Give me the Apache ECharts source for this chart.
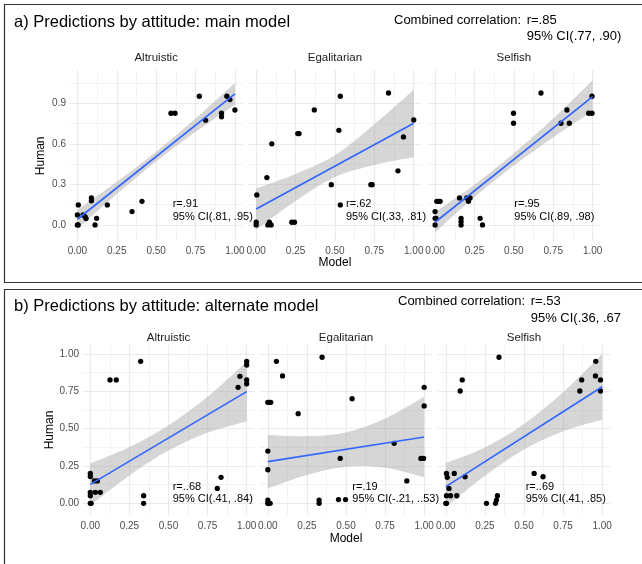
<!DOCTYPE html>
<html><head><meta charset="utf-8">
<script src="https://cdn.jsdelivr.net/npm/echarts@6/dist/echarts.min.js"></script>
<style>html,body{margin:0;padding:0;background:#fff}#c{width:642px;height:564px}</style>
</head><body><div id="c"></div>
<script>
// ---------- data ----------
const facets = ['Altruistic', 'Egalitarian', 'Selfish'];
const xTicks = [0, 0.25, 0.5, 0.75, 1];
const xMinor = [0.125, 0.375, 0.625, 0.875];
const yTicksMain = [0, 0.3, 0.6, 0.9];
const yMinorMain = [0.15, 0.45, 0.75, 1.05];
const yTicksAlt = [0, 0.25, 0.5, 0.75, 1];
const yMinorAlt = [0.125, 0.375, 0.625, 0.875];
const bandX = [0, 0.25, 0.5, 0.75, 1];
const fitX = [0, 1];

// a) main model: points [model, human]
const mainAltruistic = [[0,0],[0.005,0],[0,0.074],[0.006,0.148],[0.036,0.074],[0.049,0.062],[0.055,0.047],[0.089,0.2],[0.089,0.178],[0.112,0],[0.122,0.049],[0.19,0.148],[0.347,0.099],[0.41,0.175],[0.594,0.826],[0.62,0.826],[0.774,0.952],[0.814,0.774],[0.915,0.826],[0.915,0.8],[0.949,0.952],[0.968,0.927],[1.0,0.85]];
const mainEgalitarian = [[0,0],[0,0.02],[0.004,0.222],[0.068,0.35],[0.074,0],[0.084,0.02],[0.095,0],[0.099,0.6],[0.226,0.02],[0.243,0.02],[0.264,0.676],[0.272,0.676],[0.369,0.851],[0.477,0.298],[0.534,0.952],[0.525,0.7],[0.534,0.148],[0.728,0.298],[0.736,0.298],[0.84,0.976],[0.9,0.4],[0.935,0.651],[1.0,0.777]];
const mainSelfish = [[0,0],[0,0.049],[0,0.099],[0.006,0.049],[0.011,0.175],[0.021,0.175],[0.032,0.175],[0.155,0.2],[0.165,0.049],[0.165,0.025],[0.165,0],[0.201,0.2],[0.212,0.175],[0.222,0.2],[0.286,0.049],[0.301,0],[0.498,0.826],[0.498,0.752],[0.672,0.976],[0.799,0.752],[0.837,0.85],[0.852,0.752],[0.975,0.826],[0.996,0.826],[0.996,0.952]];
// fitted line (human at model=0, model=1)
const mainFitAltruistic = [0.042, 0.969];
const mainFitEgalitarian = [0.118, 0.752];
const mainFitSelfish = [0.02, 0.949];
// 95% band at bandX
const mainLoAltruistic = [-0.03, 0.229, 0.47, 0.687, 0.889];
const mainHiAltruistic = [0.11, 0.319, 0.542, 0.787, 1.049];
const mainLoEgalitarian = [-0.035, 0.177, 0.355, 0.444, 0.50];
const mainHiEgalitarian = [0.27, 0.377, 0.515, 0.744, 1.0];
const mainLoSelfish = [-0.055, 0.207, 0.44, 0.647, 0.84];
const mainHiSelfish = [0.095, 0.297, 0.53, 0.787, 1.07];
const mainR = ['r=.91', 'r=.62', 'r=.95'];
const mainCI = ['95% CI(.81, .95)', '95% CI(.33, .81)', '95% CI(.89, .98)'];
const mainCombined = ['Combined correlation:', 'r=.85', '95% CI(.77, .90)'];

// b) alternate model
const altAltruistic = [[0,0],[0.005,0],[0,0.051],[0,0.074],[0,0.179],[0,0.2],[0.026,0.15],[0.045,0.15],[0.032,0.074],[0.064,0.074],[0.126,0.826],[0.166,0.826],[0.322,0.951],[0.341,0.051],[0.341,0],[0.812,0.1],[0.836,0.174],[0.945,0.777],[0.957,0.85],[1,0.951],[1,0.926],[1,0.826],[1,0.8]];
const altEgalitarian = [[0,0],[0,0.022],[0.004,0],[0.015,0],[0,0.225],[0,0.35],[0,0.676],[0.009,0.676],[0.019,0.676],[0.055,0.951],[0.094,0.853],[0.194,0.6],[0.328,0.022],[0.328,0],[0.347,0.978],[0.463,0.301],[0.452,0.025],[0.497,0.025],[0.539,0.701],[0.808,0.402],[0.889,0.15],[0.979,0.301],[0.996,0.301],[1,0.777],[1,0.652]];
const altSelfish = [[0,0],[0.004,0],[0.004,0.051],[0.03,0.051],[0.07,0.051],[0.02,0.1],[0.004,0.2],[0.009,0.174],[0.054,0.2],[0.123,0.178],[0.092,0.752],[0.105,0.826],[0.26,0],[0.318,0],[0.324,0.022],[0.33,0.051],[0.34,0.978],[0.565,0.2],[0.622,0.178],[0.857,0.752],[0.869,0.826],[0.959,0.951],[0.957,0.853],[0.989,0.826],[0.989,0.752]];
const altFitAltruistic = [0.127, 0.748];
const altFitEgalitarian = [0.279, 0.444];
const altFitSelfish = [0.112, 0.78];
const altLoAltruistic = [-0.013, 0.187, 0.353, 0.473, 0.548];
const altHiAltruistic = [0.267, 0.377, 0.523, 0.713, 0.948];
const altLoEgalitarian = [0.10, 0.19, 0.245, 0.238, 0.174];
const altHiEgalitarian = [0.458, 0.45, 0.475, 0.568, 0.714];
const altLoSelfish = [-0.026, 0.184, 0.361, 0.483, 0.56];
const altHiSelfish = [0.27, 0.374, 0.531, 0.743, 1.0];
const altR = ['r=..68', 'r=.19', 'r=..69'];
const altCI = ['95% CI(.41, .84)', '95% CI(-.21, ..53)', '95% CI(.41, .85)'];
const altCombined = ['Combined correlation:', 'r=.53', '95% CI(.36, .67'];

// ---------- layout ----------
const FONT = '"Liberation Sans", Arial, Helvetica, sans-serif';
const rows = [
  { title: 'a) Predictions by attitude: main model', boxTop: 4.5, boxH: 278,
    titleY: 22, combY: [20, 36], combX: [394, 526.7],
    top: 70, height: 171.7, lefts: [69.5, 248.3, 427.2], width: 173.3,
    ymin: -0.124, ymax: 1.146, yTicks: yTicksMain, yMinor: yMinorMain, yDec: 1,
    stripY: 57.5, xTitleY: 263, yTitleX: 41, annX: [172.7, 346, 514.3], annY: [204.3, 217.3],
    pts: [mainAltruistic, mainEgalitarian, mainSelfish],
    fits: [mainFitAltruistic, mainFitEgalitarian, mainFitSelfish],
    los: [mainLoAltruistic, mainLoEgalitarian, mainLoSelfish],
    his: [mainHiAltruistic, mainHiEgalitarian, mainHiSelfish],
    r: mainR, ci: mainCI, comb: mainCombined, labelMargin: 5 },
  { title: 'b) Predictions by attitude: alternate model', boxTop: 289.5, boxH: 300,
    titleY: 306.5, combY: [301.5, 318.5], combX: [398, 530.7],
    top: 345, height: 170, lefts: [82.5, 260.0, 438.0], width: 172,
    ymin: -0.078, ymax: 1.06, yTicks: yTicksAlt, yMinor: yMinorAlt, yDec: 2,
    stripY: 337.5, xTitleY: 539, yTitleX: 50, annX: [172.7, 352.3, 525.7], annY: [486.7, 499.3],
    pts: [altAltruistic, altEgalitarian, altSelfish],
    fits: [altFitAltruistic, altFitEgalitarian, altFitSelfish],
    los: [altLoAltruistic, altLoEgalitarian, altLoSelfish],
    his: [altHiAltruistic, altHiEgalitarian, altHiSelfish],
    r: altR, ci: altCI, comb: altCombined, labelMargin: 6.5 }
];

const grid = [], xAxis = [], yAxis = [], series = [], graphic = [];
function txt(x, y, s, size, o) {
  o = o || {};
  return { type: 'text', x: x, y: y, rotation: o.rot || 0, silent: true, z: 100,
    style: { text: s, fontSize: size, fontFamily: FONT, fill: o.fill || '#000',
      align: o.align || 'left', verticalAlign: 'middle',
      textAlign: o.align || 'left', textVerticalAlign: 'middle' } };
}
// smooth path through pixel points (Catmull-Rom -> cubic Bezier)
function smoothSeg(p) {
  let d = '';
  for (let i = 0; i < p.length - 1; i++) {
    const p0 = p[Math.max(i - 1, 0)], p1 = p[i], p2 = p[i + 1], p3 = p[Math.min(i + 2, p.length - 1)];
    const c1 = [p1[0] + (p2[0] - p0[0]) / 6, p1[1] + (p2[1] - p0[1]) / 6];
    const c2 = [p2[0] - (p3[0] - p1[0]) / 6, p2[1] - (p3[1] - p1[1]) / 6];
    d += ' C' + c1[0] + ' ' + c1[1] + ' ' + c2[0] + ' ' + c2[1] + ' ' + p2[0] + ' ' + p2[1];
  }
  return d;
}

rows.forEach(function (R) {
  graphic.push({ type: 'rect', silent: true, z: 50,
    shape: { x: 4.5, y: R.boxTop, width: 640, height: R.boxH },
    style: { fill: 'none', stroke: '#333333', lineWidth: 1.2 } });
  graphic.push(txt(14, R.titleY, R.title, 16.5));
  graphic.push(txt(R.combX[0], R.combY[0], R.comb[0], 13));
  graphic.push(txt(R.combX[1], R.combY[0], R.comb[1], 13));
  graphic.push(txt(R.combX[1], R.combY[1], R.comb[2], 13));
  const midCx = R.lefts[1] + R.width / 2;
  graphic.push(txt(midCx, R.xTitleY, 'Model', 12, { align: 'center' }));
  graphic.push(txt(R.yTitleX, R.top + R.height / 2, 'Human', 12, { align: 'center', rot: Math.PI / 2 }));

  facets.forEach(function (f, fi) {
    const g = grid.length;
    grid.push({ left: R.lefts[fi], top: R.top, width: R.width, height: R.height, containLabel: false });
    graphic.push(txt(R.lefts[fi] + R.width / 2, R.stripY, f, 11.5, { align: 'center', fill: '#1A1A1A' }));
    graphic.push(txt(R.annX[fi], R.annY[0], R.r[fi], 11));
    graphic.push(txt(R.annX[fi], R.annY[1], R.ci[fi], 11));

    xAxis.push({ gridIndex: g, type: 'value', min: -0.05, max: 1.05, position: 'bottom',
      axisLine: { show: false }, axisTick: { show: false, customValues: xTicks },
      axisLabel: { customValues: xTicks, formatter: function (v) { return v.toFixed(2); },
        color: '#4D4D4D', fontSize: 10, fontFamily: FONT, margin: R.labelMargin },
      splitLine: { show: true, lineStyle: { color: '#EBEBEB', width: 1.2 } } });
    xAxis.push({ gridIndex: g, type: 'value', min: -0.05, max: 1.05, position: 'top',
      axisLine: { show: false }, axisTick: { show: false, customValues: xMinor },
      axisLabel: { show: false, customValues: xMinor },
      splitLine: { show: true, lineStyle: { color: '#F0F0F0', width: 0.8 } } });
    yAxis.push({ gridIndex: g, type: 'value', min: R.ymin, max: R.ymax, position: 'left',
      axisLine: { show: false }, axisTick: { show: false, customValues: R.yTicks },
      axisLabel: { show: fi === 0, customValues: R.yTicks,
        formatter: function (v) { return v.toFixed(R.yDec); },
        color: '#4D4D4D', fontSize: 10, fontFamily: FONT, margin: 3.5 },
      splitLine: { show: true, lineStyle: { color: '#EBEBEB', width: 1.2 } } });
    yAxis.push({ gridIndex: g, type: 'value', min: R.ymin, max: R.ymax, position: 'right',
      axisLine: { show: false }, axisTick: { show: false, customValues: R.yMinor },
      axisLabel: { show: false, customValues: R.yMinor },
      splitLine: { show: true, lineStyle: { color: '#F0F0F0', width: 0.8 } } });

    const xi = 2 * g, yi = 2 * g;
    const lo = R.los[fi], hi = R.his[fi];
    series.push({ type: 'custom', xAxisIndex: xi, yAxisIndex: yi, silent: true, z: 2,
      data: [[bandX[0], lo[0]]], encode: { x: 0, y: 1 },
      renderItem: function (params, api) {
        const up = bandX.map(function (x, i) { return api.coord([x, hi[i]]); });
        const dn = bandX.map(function (x, i) { return api.coord([x, lo[i]]); }).reverse();
        const d = 'M' + up[0][0] + ' ' + up[0][1] + smoothSeg(up) +
          ' L' + dn[0][0] + ' ' + dn[0][1] + smoothSeg(dn) + ' Z';
        return { type: 'path', shape: { pathData: d }, style: { fill: 'rgba(153,153,153,0.4)', stroke: null } };
      } });
    series.push({ type: 'scatter', xAxisIndex: xi, yAxisIndex: yi, data: R.pts[fi],
      symbolSize: 5.3, itemStyle: { color: '#000', opacity: 1 }, silent: true, z: 3 });
    series.push({ type: 'line', xAxisIndex: xi, yAxisIndex: yi,
      data: fitX.map(function (x, i) { return [x, R.fits[fi][i]]; }), symbol: 'none',
      lineStyle: { color: '#3366FF', width: 1.7 }, silent: true, z: 4 });
  });
});

const chart = echarts.init(document.getElementById('c'), null, { renderer: 'canvas' });
chart.setOption({ animation: false, backgroundColor: '#fff', grid: grid, xAxis: xAxis, yAxis: yAxis, series: series, graphic: graphic });
</script></body></html>
